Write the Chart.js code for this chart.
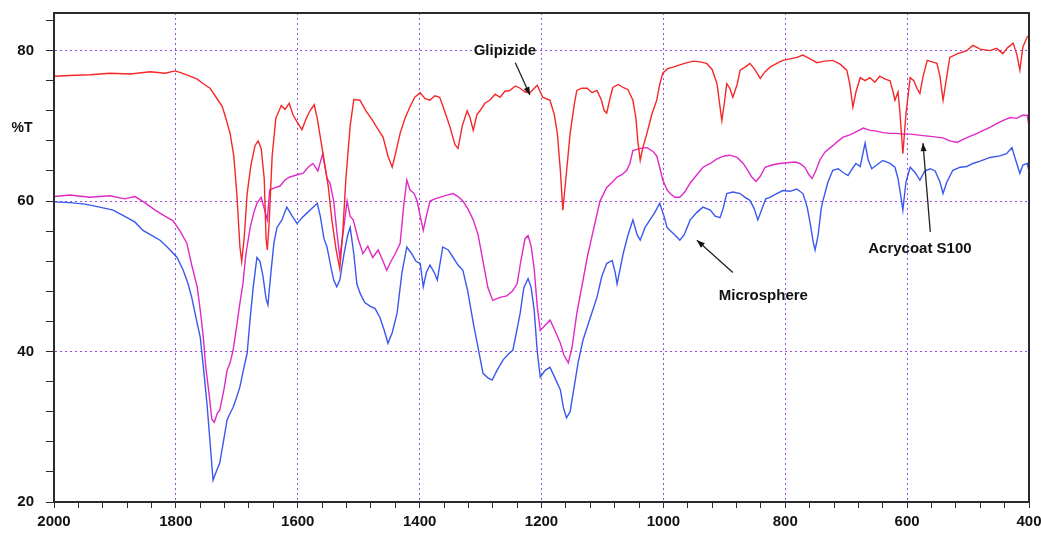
<!DOCTYPE html>
<html>
<head>
<meta charset="utf-8">
<script src="https://cdn.jsdelivr.net/npm/chart.js@4.4.0/dist/chart.umd.min.js"></script>
<style>
  html, body { margin: 0; padding: 0; background: #fff; }
</style>
</head>
<body>
<canvas id="ftir" width="1041" height="534"></canvas>
<script>
// FTIR spectra: wavenumber (cm-1) vs %T

const xMajorTicks = [2000, 1800, 1600, 1400, 1200, 1000, 800, 600, 400];
const yMajorTicks = [20, 40, 60, 80];

// [wavenumber, %T]
const glipizide = [
  [2000,76.6],[1974,76.7],[1941,76.8],[1908,77.0],[1875,76.9],[1842,77.2],[1818,77.0],[1801,77.3],[1790,77.0],
  [1777,76.6],[1765,76.2],[1755,75.6],[1744,75.0],[1734,73.8],[1724,72.6],[1718,71.0],[1711,69.0],[1705,66.0],
  [1700,61.0],[1695,54.0],[1692,52.0],[1688,55.0],[1683,61.0],[1677,64.7],[1670,67.4],[1665,68.0],[1660,67.0],
  [1655,63.0],[1652,55.0],[1650,53.5],[1647,57.0],[1642,66.0],[1636,71.0],[1627,72.7],[1621,72.2],[1614,73.0],
  [1608,71.5],[1601,70.5],[1593,69.5],[1586,71.0],[1580,72.0],[1573,72.8],[1568,71.0],[1563,68.5],[1557,65.5],
  [1550,62.0],[1544,57.5],[1537,53.5],[1531,51.0],[1526,56.0],[1521,63.0],[1514,70.0],[1508,73.5],[1498,73.4],
  [1488,72.0],[1477,70.7],[1468,69.5],[1460,68.5],[1452,66.0],[1445,64.5],[1439,66.5],[1432,69.0],[1424,71.0],
  [1416,72.5],[1408,73.8],[1399,74.4],[1391,73.6],[1383,73.4],[1375,74.0],[1367,73.8],[1357,71.5],[1350,69.8],
  [1342,67.5],[1337,67.0],[1330,70.0],[1322,72.0],[1317,71.0],[1312,69.4],[1306,71.5],[1301,72.0],[1293,73.0],
  [1285,73.4],[1276,74.2],[1268,73.8],[1260,74.6],[1252,74.7],[1243,75.3],[1235,75.0],[1227,74.5],[1219,74.4],
  [1207,75.4],[1198,73.8],[1186,73.4],[1179,71.5],[1174,69.0],[1169,64.0],[1165,58.8],[1160,63.0],[1153,69.0],
  [1146,73.0],[1142,74.7],[1134,75.0],[1125,75.0],[1117,74.4],[1109,74.7],[1102,73.5],[1097,72.0],[1093,71.7],
  [1088,73.5],[1083,75.1],[1074,75.5],[1066,75.1],[1058,74.8],[1050,73.4],[1045,71.0],[1042,68.0],[1038,65.4],
  [1034,67.0],[1027,69.0],[1019,71.5],[1011,73.4],[1006,75.5],[1001,77.0],[993,77.6],[984,77.8],[973,78.1],
  [961,78.4],[951,78.6],[940,78.5],[929,78.3],[920,77.5],[912,75.6],[907,72.5],[904,70.7],[900,73.0],[896,75.6],
  [891,75.0],[886,73.8],[879,75.5],[874,77.4],[866,77.8],[858,78.3],[850,77.5],[841,76.3],[833,77.2],[825,77.8],
  [814,78.3],[804,78.7],[792,78.9],[781,79.1],[771,79.4],[759,78.9],[748,78.4],[735,78.6],[722,78.7],[710,78.2],
  [699,77.4],[694,75.5],[689,72.5],[684,74.5],[677,76.4],[669,76.0],[661,76.4],[653,75.8],[645,76.6],[636,76.2],
  [628,76.0],[623,74.5],[620,73.4],[615,74.5],[612,72.0],[607,66.3],[602,71.5],[595,76.4],[589,76.0],[584,75.0],
  [579,74.3],[574,76.5],[567,78.7],[559,78.5],[551,78.3],[546,76.5],[541,73.4],[536,76.0],[530,79.1],[517,79.6],
  [502,80.0],[492,80.7],[480,80.2],[464,80.0],[453,80.3],[443,79.6],[435,80.4],[426,81.0],[420,79.5],[415,77.4],
  [410,80.5],[403,81.8],[400,82.0]
];

const acrycoat = [
  [2000,60.6],[1974,60.8],[1941,60.5],[1908,60.7],[1884,60.3],[1867,60.6],[1851,59.8],[1834,58.8],[1818,58.0],
  [1805,57.4],[1793,56.0],[1782,54.4],[1774,51.5],[1765,48.6],[1760,45.5],[1755,41.9],[1751,38.0],[1745,34.0],
  [1741,31.0],[1737,30.6],[1732,31.8],[1728,32.2],[1721,35.0],[1716,37.5],[1711,38.5],[1706,40.2],[1700,43.5],
  [1695,46.4],[1690,49.0],[1685,53.0],[1678,56.5],[1672,58.5],[1667,59.7],[1660,60.5],[1655,59.0],[1650,57.5],
  [1646,61.5],[1637,61.8],[1629,62.0],[1621,62.8],[1613,63.2],[1601,63.5],[1591,63.7],[1583,64.5],[1575,65.0],
  [1567,64.0],[1559,66.3],[1552,63.0],[1547,62.4],[1541,60.0],[1536,56.0],[1531,52.5],[1526,55.5],[1519,60.0],
  [1514,58.0],[1509,57.5],[1501,55.0],[1493,53.0],[1485,54.0],[1477,52.5],[1468,53.5],[1460,52.0],[1454,50.8],
  [1447,52.0],[1440,53.0],[1432,54.4],[1426,59.5],[1421,62.8],[1416,61.5],[1409,61.0],[1404,60.0],[1399,58.0],
  [1394,56.1],[1389,58.0],[1383,60.0],[1375,60.3],[1367,60.5],[1355,60.8],[1345,61.0],[1337,60.6],[1329,60.0],
  [1321,59.0],[1312,57.5],[1304,55.5],[1296,52.0],[1288,48.5],[1280,46.8],[1268,47.2],[1257,47.4],[1248,48.0],
  [1240,49.0],[1234,52.0],[1227,55.0],[1222,55.4],[1217,54.0],[1212,51.0],[1207,46.0],[1202,42.8],[1194,43.5],
  [1186,44.2],[1178,42.8],[1169,41.1],[1163,39.5],[1156,38.5],[1150,40.5],[1142,45.1],[1133,49.0],[1125,52.5],
  [1115,56.1],[1104,60.0],[1093,61.8],[1084,62.5],[1076,63.2],[1068,63.5],[1060,64.1],[1055,65.0],[1050,66.7],
  [1038,67.0],[1027,67.1],[1017,66.6],[1011,66.0],[1006,64.5],[1001,62.8],[994,61.5],[989,61.0],[981,60.5],
  [973,60.5],[965,61.2],[956,62.4],[945,63.5],[935,64.5],[923,65.0],[912,65.6],[900,66.0],[891,66.1],[879,65.8],
  [869,65.0],[861,64.0],[855,63.2],[848,62.6],[841,63.3],[833,64.5],[822,64.8],[809,65.0],[797,65.1],[784,65.2],
  [776,65.0],[768,64.5],[761,63.5],[756,63.0],[750,64.0],[743,65.5],[735,66.5],[723,67.3],[713,68.0],[705,68.5],
  [694,68.8],[684,69.2],[672,69.7],[661,69.4],[650,69.3],[640,69.1],[628,69.0],[617,69.0],[607,68.9],[595,68.9],
  [584,68.8],[574,68.7],[562,68.6],[551,68.5],[541,68.4],[530,68.0],[518,67.8],[508,68.2],[497,68.6],[485,69.0],
  [475,69.4],[464,69.8],[453,70.3],[443,70.7],[431,71.1],[420,71.0],[411,71.4],[403,71.4],[400,70.0]
];

const microsphere = [
  [2000,59.9],[1974,59.8],[1949,59.6],[1925,59.2],[1903,58.8],[1880,57.8],[1867,57.2],[1854,56.1],[1839,55.4],
  [1826,54.8],[1813,53.8],[1798,52.5],[1788,50.8],[1780,49.0],[1774,47.2],[1767,44.5],[1760,41.9],[1755,38.0],
  [1749,33.1],[1744,28.0],[1739,22.9],[1734,24.0],[1728,25.2],[1721,28.5],[1716,30.9],[1711,31.8],[1706,32.6],
  [1700,34.0],[1695,35.3],[1688,38.0],[1683,39.8],[1678,44.5],[1673,48.6],[1667,52.5],[1662,52.0],[1657,50.0],
  [1652,47.0],[1649,46.2],[1644,50.5],[1639,54.5],[1634,56.5],[1626,57.5],[1618,59.2],[1609,58.0],[1601,57.0],
  [1593,57.8],[1585,58.4],[1577,59.0],[1568,59.7],[1563,58.0],[1557,55.0],[1552,53.9],[1545,51.0],[1541,49.5],
  [1536,48.6],[1531,49.5],[1524,53.0],[1518,55.5],[1514,56.5],[1508,53.0],[1503,49.0],[1498,47.8],[1490,46.5],
  [1481,46.0],[1473,45.7],[1465,44.5],[1458,42.8],[1452,41.1],[1445,42.5],[1437,45.1],[1429,50.5],[1421,53.9],
  [1413,53.0],[1406,52.0],[1399,51.7],[1394,48.6],[1389,50.5],[1383,51.5],[1376,50.5],[1371,49.5],[1367,51.5],
  [1362,53.9],[1353,53.5],[1345,52.5],[1337,51.5],[1329,50.8],[1321,48.0],[1312,43.8],[1304,40.5],[1296,37.1],
  [1288,36.5],[1281,36.2],[1273,37.5],[1263,38.9],[1255,39.6],[1247,40.2],[1240,43.0],[1235,45.1],[1229,48.5],
  [1222,49.7],[1217,48.5],[1212,45.5],[1207,40.0],[1202,36.6],[1194,37.5],[1186,37.9],[1178,36.5],[1169,34.9],
  [1164,32.5],[1159,31.2],[1153,32.0],[1148,34.5],[1140,38.5],[1132,41.5],[1120,44.5],[1109,47.2],[1101,50.0],
  [1093,51.7],[1084,52.1],[1079,50.5],[1076,49.0],[1071,51.0],[1066,53.0],[1058,55.5],[1050,57.5],[1043,55.5],
  [1038,54.8],[1030,56.5],[1022,57.5],[1014,58.5],[1006,59.7],[999,58.0],[994,56.5],[989,56.1],[981,55.5],
  [973,54.8],[966,55.5],[961,56.5],[956,57.5],[945,58.5],[935,59.2],[923,58.8],[915,58.0],[907,57.8],[902,59.0],
  [896,61.0],[886,61.2],[874,61.0],[866,60.5],[858,60.1],[851,59.0],[845,57.5],[838,59.0],[832,60.3],[825,60.5],
  [814,61.0],[804,61.4],[792,61.3],[781,61.6],[771,61.0],[764,59.2],[759,57.0],[754,54.5],[751,53.5],[746,55.5],
  [741,59.0],[738,60.1],[730,62.5],[722,64.1],[713,64.3],[705,63.8],[697,63.4],[690,64.3],[684,65.0],[677,64.6],
  [669,67.7],[664,65.5],[658,64.3],[650,64.8],[640,65.4],[628,65.0],[620,64.5],[615,63.0],[610,60.5],[607,58.8],
  [602,62.5],[595,64.5],[587,63.8],[579,62.8],[571,64.0],[562,64.3],[554,64.0],[546,62.5],[541,61.0],[535,62.5],
  [525,64.1],[513,64.5],[502,64.6],[492,65.0],[480,65.3],[464,65.8],[448,66.0],[437,66.3],[428,67.1],[422,65.5],
  [415,63.7],[410,64.8],[403,65.0],[400,64.0]
];

const FONT = '"Liberation Sans", Arial, sans-serif';
const GRID_PURPLE = '#9a4fe0';
const AXIS_DARK = '#2b2b2b';

// minor tick spacing
const X_MINOR = 40;
const Y_MINOR = 4;

function toPoints(pairs) {
  return pairs.map(p => ({ x: p[0], y: p[1] }));
}

function minorTicks(lo, hi, step) {
  const out = [];
  for (let v = lo; v <= hi; v += step) out.push({ value: v });
  return out;
}

// white paper
const paperBg = {
  id: 'paperBg',
  beforeDraw(chart) {
    const c = chart.ctx;
    c.save();
    c.fillStyle = '#fff';
    c.fillRect(0, 0, chart.width, chart.height);
    c.restore();
  }
};

// dark box round the plot + the %T label
const frame = {
  id: 'frame',
  afterDraw(chart) {
    const { ctx, chartArea: a, scales } = chart;
    ctx.save();
    ctx.strokeStyle = AXIS_DARK;
    ctx.lineWidth = 2;
    ctx.strokeRect(a.left, a.top, a.right - a.left, a.bottom - a.top);
    ctx.fillStyle = '#111';
    ctx.font = 'bold 14px ' + FONT;
    ctx.textAlign = 'center';
    ctx.textBaseline = 'middle';
    ctx.fillText('%T', 22, scales.y.getPixelForValue(69.7));
    ctx.restore();
  }
};

// series names with arrows pointing at their traces
const callouts = [
  { text: 'Glipizide',     at: [1260, 80.0], from: [1243, 78.4], to: [1219, 74.1] },
  { text: 'Acrycoat S100', at: [579, 53.7],  from: [562, 55.9],  to: [574, 67.7] },
  { text: 'Microsphere',   at: [836, 47.4],  from: [886, 50.5],  to: [945, 54.8] }
];

const calloutPlugin = {
  id: 'callouts',
  afterDatasetsDraw(chart) {
    const { ctx, scales: { x, y } } = chart;
    ctx.save();
    ctx.fillStyle = '#111';
    ctx.strokeStyle = '#222';
    ctx.lineWidth = 1.3;
    ctx.font = 'bold 15px ' + FONT;
    ctx.textAlign = 'center';
    ctx.textBaseline = 'middle';
    callouts.forEach(c => {
      ctx.fillText(c.text, x.getPixelForValue(c.at[0]), y.getPixelForValue(c.at[1]));
      const x1 = x.getPixelForValue(c.from[0]), y1 = y.getPixelForValue(c.from[1]);
      const x2 = x.getPixelForValue(c.to[0]),   y2 = y.getPixelForValue(c.to[1]);
      ctx.beginPath();
      ctx.moveTo(x1, y1);
      ctx.lineTo(x2, y2);
      ctx.stroke();
      // arrow head
      const ang = Math.atan2(y2 - y1, x2 - x1);
      ctx.beginPath();
      ctx.moveTo(x2, y2);
      ctx.lineTo(x2 - 8 * Math.cos(ang) + 3 * Math.sin(ang), y2 - 8 * Math.sin(ang) - 3 * Math.cos(ang));
      ctx.lineTo(x2 - 8 * Math.cos(ang) - 3 * Math.sin(ang), y2 - 8 * Math.sin(ang) + 3 * Math.cos(ang));
      ctx.closePath();
      ctx.fill();
    });
    ctx.restore();
  }
};

const lineStyle = (color) => ({
  borderColor: color,
  borderWidth: 1.4,
  pointRadius: 0,
  tension: 0,
  fill: false
});

new Chart(document.getElementById('ftir'), {
  type: 'line',
  data: {
    datasets: [
      { label: 'Glipizide', data: toPoints(glipizide), ...lineStyle('#f42828') },
      { label: 'Acrycoat S100', data: toPoints(acrycoat), ...lineStyle('#e02ac6') },
      { label: 'Microsphere', data: toPoints(microsphere), ...lineStyle('#3a58ee') }
    ]
  },
  options: {
    responsive: false,
    animation: false,
    layout: { padding: { top: 13, right: 12, left: 0, bottom: 0 } },
    plugins: { legend: { display: false }, tooltip: { enabled: false } },
    scales: {
      x: {
        type: 'linear',
        reverse: true,
        min: 400,
        max: 2000,
        afterBuildTicks: s => { s.ticks = minorTicks(400, 2000, X_MINOR); },
        afterFit: s => { s.height = 32; s.paddingLeft = 0; s.paddingRight = 0; },
        ticks: {
          autoSkip: false,
          maxRotation: 0,
          padding: 5,
          color: '#111',
          font: { family: FONT, size: 15, weight: 'bold' },
          callback: v => xMajorTicks.includes(v) ? String(v) : ''
        },
        grid: {
          color: c => (c.tick && xMajorTicks.includes(c.tick.value)) ? GRID_PURPLE : 'rgba(0,0,0,0)',
          lineWidth: 1,
          tickColor: AXIS_DARK,
          tickLength: 6
        },
        border: { display: true, color: AXIS_DARK, width: 2, dash: [2, 3] }
      },
      y: {
        min: 20,
        max: 85,
        afterBuildTicks: s => { s.ticks = minorTicks(20, 84, Y_MINOR); },
        afterFit: s => { s.width = 54; s.paddingTop = 0; s.paddingBottom = 0; },
        ticks: {
          autoSkip: false,
          padding: 12,
          color: '#111',
          font: { family: FONT, size: 15, weight: 'bold' },
          callback: v => yMajorTicks.includes(v) ? String(v) : ''
        },
        grid: {
          color: c => (c.tick && yMajorTicks.includes(c.tick.value) && c.tick.value !== 20) ? GRID_PURPLE : 'rgba(0,0,0,0)',
          lineWidth: 1,
          tickColor: AXIS_DARK,
          tickLength: 8
        },
        border: { display: true, color: AXIS_DARK, width: 2, dash: [2, 3] }
      }
    }
  },
  plugins: [paperBg, calloutPlugin, frame]
});
</script>
</body>
</html>
